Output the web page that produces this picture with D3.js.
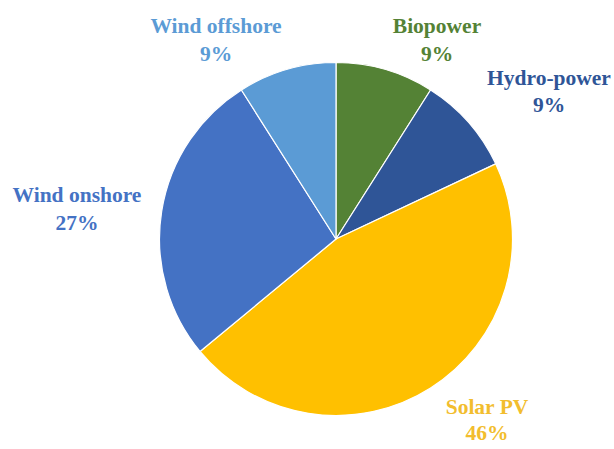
<!DOCTYPE html>
<html>
<head>
<meta charset="utf-8">
<script src="https://cdn.jsdelivr.net/npm/d3@7"></script>
<style>
  html, body { margin: 0; padding: 0; background: #fff; overflow: hidden; }
  svg { display: block; }
  text { font-family: "Liberation Serif", "DejaVu Serif", serif; font-weight: bold; }
</style>
</head>
<body>
<div id="container"></div>
<script>
//Data - shares of renewable capacity, clockwise from 12 o'clock
const categories = ['Biopower', 'Hydro-power', 'Solar PV', 'Wind onshore', 'Wind offshore'];
const shares = [9, 9, 46, 27, 9];
const sliceColors = ['#548235', '#2f5597', '#ffc000', '#4472c4', '#5b9bd5'];
const labelColors = ['#548235', '#2f5597', '#f2bd2e', '#4472c4', '#5b9bd5'];

//Label anchors (centre x, first baseline y, line gap), placed by hand like the original
const labelPos = [[437, 33, 28], [549, 85, 27], [487, 414, 26], [77, 202, 28], [216, 33, 28]];

const width = 614;
const height = 449;
const cx = 336, cy = 239, radius = 176.5;

const svg = d3.select('#container').append('svg')
    .attr('width', width)
    .attr('height', height);

const color = d3.scaleOrdinal().domain(categories).range(sliceColors);
const labelColor = d3.scaleOrdinal().domain(categories).range(labelColors);

const pie = d3.pie().sort(null).value(d => d.value);
const arc = d3.arc().innerRadius(0).outerRadius(radius);

const data = categories.map((c, i) => ({ name: c, value: shares[i] }));

svg.append('g')
    .attr('transform', `translate(${cx},${cy})`)
    .selectAll('path')
    .data(pie(data))
    .enter().append('path')
    .attr('d', arc)
    .attr('fill', d => color(d.data.name))
    .attr('stroke', '#fff')
    .attr('stroke-width', 1.2)
    .attr('stroke-linejoin', 'round');

//Labels: name on first line, percentage below
const labels = svg.append('g')
    .selectAll('text')
    .data(data)
    .enter().append('text')
    .attr('text-anchor', 'middle')
    .attr('font-size', 21.5)
    .attr('fill', d => labelColor(d.name));

labels.append('tspan')
    .attr('x', (d, i) => labelPos[i][0])
    .attr('y', (d, i) => labelPos[i][1])
    .text(d => d.name);

labels.append('tspan')
    .attr('x', (d, i) => labelPos[i][0])
    .attr('y', (d, i) => labelPos[i][1] + labelPos[i][2])
    .text(d => d.value + '%');
</script>
</body>
</html>
